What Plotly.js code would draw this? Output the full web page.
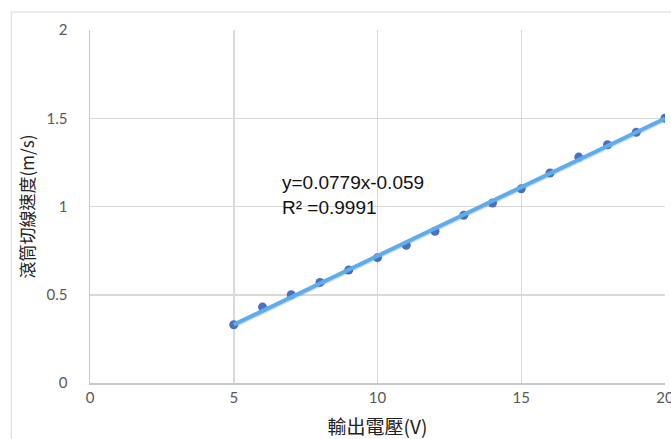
<!DOCTYPE html>
<html>
<head>
<meta charset="utf-8">
<script src="https://cdn.plot.ly/plotly-3.0.1.min.js"></script>
<style>html,body{margin:0;padding:0;background:#fff;}#chart{width:671px;height:439px;}</style>
</head>
<body>
<div id="chart"></div>
<script>
const voltage = [5, 6, 7, 8, 9, 10, 11, 12, 13, 14, 15, 16, 17, 18, 19, 20];
const speed = [0.33, 0.43, 0.50, 0.57, 0.64, 0.71, 0.78, 0.86, 0.95, 1.02, 1.10, 1.19, 1.28, 1.35, 1.42, 1.50];
const slope = 0.0779;
const intercept = -0.059;
const xTicks = [0, 5, 10, 15, 20];
const yTicks = [0, 0.5, 1, 1.5, 2];
const yTickText = ['0', '0.5', '1', '1.5', '2'];
const xTitle = '輸出電壓(V)';
const yTitle = '滾筒切線速度(m/s)';
const eqText = 'y=0.0779x-0.059<br>R² =0.9991';

const xMin = Math.min(...voltage), xMax = Math.max(...voltage);
const fitX = [xMin, xMax];
const fitY = fitX.map(v => slope * v + intercept);

const tickFont = "Lato, 'Liberation Sans', sans-serif";
const cjkFont = "'Noto Sans CJK TC', 'Noto Sans CJK JP', sans-serif";

const traces = [
  {x: voltage, y: speed, type: 'scatter', mode: 'markers',
   marker: {color: '#4A70C4', size: 9, line: {width: 0}}, showlegend: false, hoverinfo: 'skip'},
  {x: fitX.map(v => v + 0.03), y: fitY.map(v => v - 0.008), type: 'scatter', mode: 'lines',
   line: {color: 'rgba(100,100,100,0.22)', width: 3.5}, showlegend: false, hoverinfo: 'skip'},
  {x: fitX, y: fitY, type: 'scatter', mode: 'lines',
   line: {color: '#5DADEE', width: 4}, showlegend: false, hoverinfo: 'skip'}
];

const layout = {
  width: 671, height: 439,
  margin: {l: 90, r: 6, t: 30, b: 56},
  paper_bgcolor: '#fff', plot_bgcolor: '#fff',
  font: {family: tickFont, color: '#595959', size: 15},
  xaxis: {
    range: [0, 20], tickvals: xTicks, ticktext: xTicks.map(String),
    showgrid: true, gridcolor: '#d9d9d9', gridwidth: 1.5,
    zeroline: false, showline: true, linecolor: '#c8c8c8', linewidth: 1.5,
    ticks: '', ticklen: 0, tickfont: {size: 15, color: '#595959', family: tickFont},
    ticklabeloverflow: 'allow',
    title: {text: xTitle, font: {size: 19, color: '#222', family: cjkFont}, standoff: 19}
  },
  yaxis: {
    range: [0, 2], tickvals: yTicks, ticktext: yTickText,
    showgrid: true, gridcolor: '#d9d9d9', gridwidth: 1.5,
    zeroline: false, showline: true, linecolor: '#c8c8c8', linewidth: 1.5,
    ticks: '', ticklen: 0, tickfont: {size: 15, color: '#595959', family: tickFont},
    ticklabelstandoff: 18,
    title: {text: yTitle, font: {size: 17, color: '#222', family: cjkFont}, standoff: 7}
  },
  shapes: [
    {type: 'rect', xref: 'paper', yref: 'paper', x0: -0.137, x1: 1.02, y0: -0.18, y1: 1.051,
     line: {color: '#d9d9d9', width: 1}, fillcolor: 'rgba(0,0,0,0)', layer: 'below'}
  ],
  annotations: [
    {x: 6.6, y: 1.063, xref: 'x', yref: 'y', xanchor: 'left', yanchor: 'middle', align: 'left',
     text: eqText, showarrow: false, font: {size: 19, color: '#111', family: "'Liberation Sans', sans-serif"}}
  ]
};

Plotly.newPlot('chart', traces, layout, {displayModeBar: false, staticPlot: true});
</script>
</body>
</html>
